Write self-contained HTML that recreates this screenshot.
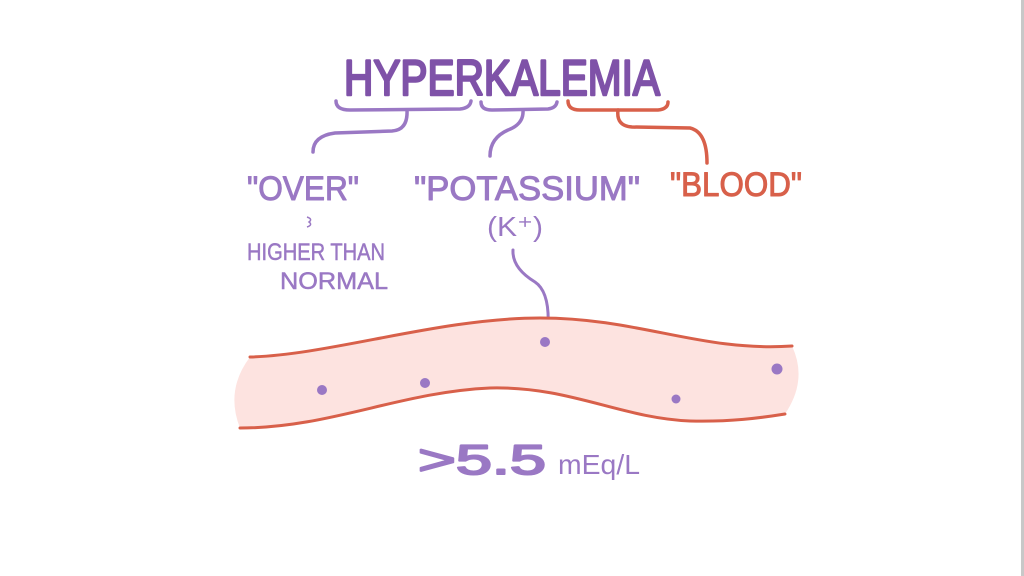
<!DOCTYPE html>
<html><head><meta charset="utf-8"><style>
html,body{margin:0;padding:0;background:#fff;}
svg{display:block;}
text{font-family:"Liberation Sans",sans-serif;stroke-linejoin:round;}
</style></head><body>
<svg width="1024" height="576" viewBox="0 0 1024 576">
<rect x="1021" y="0" width="3" height="576" fill="#c8c8c8"/>
<text x="502" y="95" text-anchor="middle" font-size="50" fill="#7f52a8" stroke="#7f52a8" stroke-width="2.5" textLength="316" lengthAdjust="spacingAndGlyphs">HYPERKALEMIA</text>
<g fill="none" stroke-linecap="round" stroke-width="3.5">
<path d="M336,101 Q336,110 350,110 L460,109 Q470,108 471,101" stroke="#9a78c4"/>
<path d="M407,110 Q408,130 392,131 L335,133 Q313,136 313,152" stroke="#9a78c4"/>
<path d="M481,102 Q481,110 492,110 L548,109 Q556,108 557,102" stroke="#9a78c4"/>
<path d="M523,110 Q524,124 508,130 Q490,138 490,156" stroke="#9a78c4"/>
<path d="M568,101 Q568,110 580,110 L658,110 Q668,109 668,102" stroke="#d8604a"/>
<path d="M618,110 Q616,126 632,127 L690,128 Q707,132 707,163" stroke="#d8604a"/>
<path d="M513,250 Q512,268 535,282 Q550,292 548,328" stroke="#9a78c4" stroke-width="3"/>
</g>
<text x="303" y="200" text-anchor="middle" font-size="34" fill="#9a78c4" stroke="#9a78c4" stroke-width="1" textLength="112" lengthAdjust="spacingAndGlyphs">"OVER"</text>
<text x="527" y="200" text-anchor="middle" font-size="34" fill="#9a78c4" stroke="#9a78c4" stroke-width="1" textLength="226" lengthAdjust="spacingAndGlyphs">"POTASSIUM"</text>
<text x="736" y="196" text-anchor="middle" font-size="34" fill="#d8604a" stroke="#d8604a" stroke-width="1" textLength="132" lengthAdjust="spacingAndGlyphs">"BLOOD"</text>
<text x="515" y="236" text-anchor="middle" font-size="28" fill="#9a78c4" textLength="56" lengthAdjust="spacingAndGlyphs">(K⁺)</text>
<path d="M307,217 Q313,219 309,222 Q313,225 307,227" fill="none" stroke="#9a78c4" stroke-width="1.5"/>
<text x="316" y="260" text-anchor="middle" font-size="24" fill="#9a78c4" stroke="#9a78c4" stroke-width="0.5" textLength="138" lengthAdjust="spacingAndGlyphs">HIGHER THAN</text>
<text x="334" y="289" text-anchor="middle" font-size="24" fill="#9a78c4" stroke="#9a78c4" stroke-width="0.5" textLength="108" lengthAdjust="spacingAndGlyphs">NORMAL</text>
<path d="M250,357 C330,355 440,318 540,318 C640,318 700,352 792,346 Q808,380 785,414 C760,418 730,422 690,421 C620,418 570,386 490,388 C400,392 330,428 240,428 Q225,390 250,357 Z" fill="#fde3e0"/>
<g fill="none" stroke="#d8604a" stroke-width="3" stroke-linecap="round">
<path d="M250,357 C330,355 440,318 540,318 C640,318 700,352 792,346"/>
<path d="M240,428 C330,428 400,392 490,388 C570,386 620,418 690,421 C730,422 760,418 785,414"/>
</g>
<g fill="#9a78c4">
<circle cx="322" cy="390" r="5"/><circle cx="425" cy="383" r="5"/><circle cx="545" cy="342" r="5"/><circle cx="676" cy="399" r="4.5"/><circle cx="777" cy="369" r="5.5"/>
</g>
<text x="418" y="474" font-size="42" fill="#9a78c4" stroke="#9a78c4" stroke-width="2" textLength="128" lengthAdjust="spacingAndGlyphs">&gt;5.5</text>
<text x="558" y="474" font-size="28" fill="#9a78c4" textLength="82" lengthAdjust="spacingAndGlyphs">mEq/L</text>
</svg>
</body></html>
